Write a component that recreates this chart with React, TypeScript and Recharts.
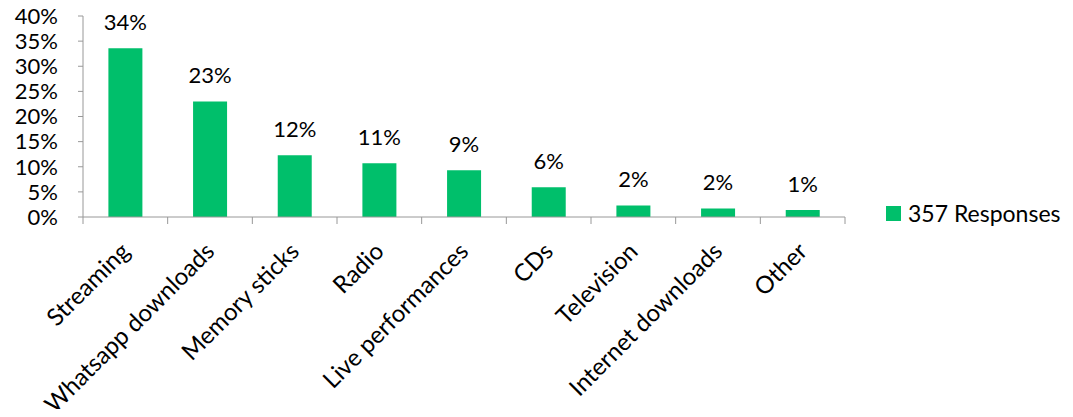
import { BarChart, Bar, XAxis, YAxis, Legend, LabelList } from 'recharts'

const categories = [
  'Streaming',
  'Whatsapp downloads',
  'Memory sticks',
  'Radio',
  'Live performances',
  'CDs',
  'Television',
  'Internet downloads',
  'Other',
]
const responses = [33.6, 23.0, 12.3, 10.7, 9.3, 5.9, 2.3, 1.7, 1.4]
const yTicks = [0, 5, 10, 15, 20, 25, 30, 35, 40]
const seriesName = '357 Responses'

const data = categories.map((name, i) => ({ name, value: responses[i] }))

const GREEN = '#00BF6B'
const AXIS = '#989898'
const FONT = 'Lato, "Noto Sans", sans-serif'

const WIDTH = 1073
const HEIGHT = 417
const MARGIN = { top: 16, right: 228, left: 0, bottom: 0 }
const Y_WIDTH = 83
const PLOT_BOTTOM = 217
const BAND = (WIDTH - MARGIN.right - MARGIN.left - Y_WIDTH) / categories.length

function CategoryTick(props: any) {
  const { x, y, payload, index } = props
  const tx = x
  const ty = y + 22
  const left = x - BAND / 2
  const right = x + BAND / 2
  return (
    <g>
      <line x1={left} y1={y - 8} x2={left} y2={y - 1} stroke={AXIS} />
      {index === categories.length - 1 && (
        <line x1={right} y1={y - 8} x2={right} y2={y - 1} stroke={AXIS} />
      )}
      <text
        x={tx}
        y={ty}
        dy="0.35em"
        textAnchor="end"
        transform={`rotate(-45, ${tx}, ${ty})`}
        fontSize={24}
        fill="#000"
        fontFamily={FONT}
      >
        {payload.value}
      </text>
    </g>
  )
}

function LegendBox() {
  return (
    <div style={{ display: 'flex', alignItems: 'center', whiteSpace: 'nowrap', fontFamily: FONT }}>
      <span style={{ width: 15, height: 15, background: GREEN, display: 'inline-block', flexShrink: 0 }} />
      <span style={{ marginLeft: 7, fontSize: 23, color: '#000', lineHeight: '30px' }}>
        {seriesName}
      </span>
    </div>
  )
}

export default function App() {
  return (
    <div style={{ width: WIDTH, height: HEIGHT, margin: -8, fontFamily: FONT }}>
      <BarChart width={WIDTH} height={HEIGHT} data={data} margin={MARGIN} barCategoryGap="30%">
        <XAxis
          dataKey="name"
          interval={0}
          tickLine={false}
          axisLine={{ stroke: AXIS }}
          tick={<CategoryTick />}
          height={HEIGHT - PLOT_BOTTOM}
        />
        <YAxis
          domain={[0, 40]}
          ticks={yTicks}
          interval={0}
          width={Y_WIDTH}
          tickSize={5}
          tickMargin={20}
          tickLine={{ stroke: AXIS }}
          axisLine={{ stroke: AXIS }}
          tickFormatter={(v: number) => `${v}%`}
          tick={{ fontSize: 22, fill: '#000', fontFamily: FONT }}
        />
        <Legend
          layout="horizontal"
          verticalAlign="middle"
          align="center"
          content={<LegendBox />}
          wrapperStyle={{ left: 886, top: 198, width: 180 }}
        />
        <Bar dataKey="value" name={seriesName} fill={GREEN} isAnimationActive={false}>
          <LabelList
            dataKey="value"
            position="top"
            offset={18}
            formatter={(v: number) => `${Math.round(v)}%`}
            style={{ fontSize: 22, fill: '#000', fontFamily: FONT }}
          />
        </Bar>
      </BarChart>
    </div>
  )
}
